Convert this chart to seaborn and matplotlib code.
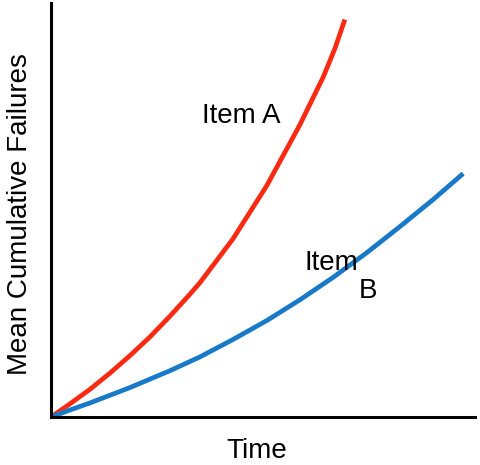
import matplotlib
matplotlib.use("Agg")
import matplotlib.pyplot as plt
import seaborn as sns
import pandas as pd

# Data (axis scale 0-10 on both axes)
time_a = [0, 0.45, 0.92, 1.39, 1.86, 2.33, 2.81, 3.28, 3.51, 4.29, 5.09, 5.87, 6.42, 6.70, 6.93]
fail_a = [0, 0.32, 0.67, 1.06, 1.48, 1.93, 2.44, 2.97, 3.24, 4.30, 5.59, 7.06, 8.21, 8.91, 9.60]
time_b = [0, 0.45, 0.92, 1.86, 2.81, 3.51, 4.29, 5.09, 5.87, 6.65, 7.45, 8.23, 9.01, 9.72]
fail_b = [0, 0.17, 0.34, 0.71, 1.12, 1.45, 1.87, 2.33, 2.83, 3.37, 3.97, 4.60, 5.25, 5.88]
items = ["Item A", "Item B"]
colors = ["#FA2A12", "#1779C8"]

df = pd.concat([
    pd.DataFrame({"Time": time_a, "Failures": fail_a, "Item": items[0]}),
    pd.DataFrame({"Time": time_b, "Failures": fail_b, "Item": items[1]}),
])

sns.set_theme(style="white")
plt.rcParams["font.family"] = ["Liberation Sans", "DejaVu Sans"]
plt.rcParams["text.color"] = "black"

fig = plt.figure(figsize=(4.8, 4.65), dpi=100)
ax = fig.add_axes([51 / 480, 48 / 465, 424 / 480, 414 / 465])

sns.lineplot(data=df, x="Time", y="Failures", hue="Item",
             palette=dict(zip(items, colors)), linewidth=3.4,
             legend=False, ax=ax, sort=False, solid_capstyle="butt",
             solid_joinstyle="round")

ax.set_xlim(0, 10)
ax.set_ylim(0, 10)
ax.set_xticks([])
ax.set_yticks([])
ax.set_xlabel("")
ax.set_ylabel("")
for side in ["top", "right"]:
    ax.spines[side].set_visible(False)
for side in ["left", "bottom"]:
    ax.spines[side].set_color("black")
    ax.spines[side].set_linewidth(2.2)

ax.text(3.56, 7.10, "Item A", fontsize=20, ha="left", va="baseline", color="black")
ax.text(5.99, 3.55, "Item", fontsize=20, ha="left", va="baseline", color="black")
ax.text(7.25, 2.87, "B", fontsize=20, ha="left", va="baseline", color="black")

fig.text(257 / 480, 1 / 465, "Time", fontsize=20, ha="center", va="bottom",
         color="black")
fig.text(20 / 480, (465 - 214) / 465, "Mean Cumulative Failures", fontsize=20,
         rotation=90, ha="center", va="center", color="black")

fig.savefig("out.png", dpi=100)
